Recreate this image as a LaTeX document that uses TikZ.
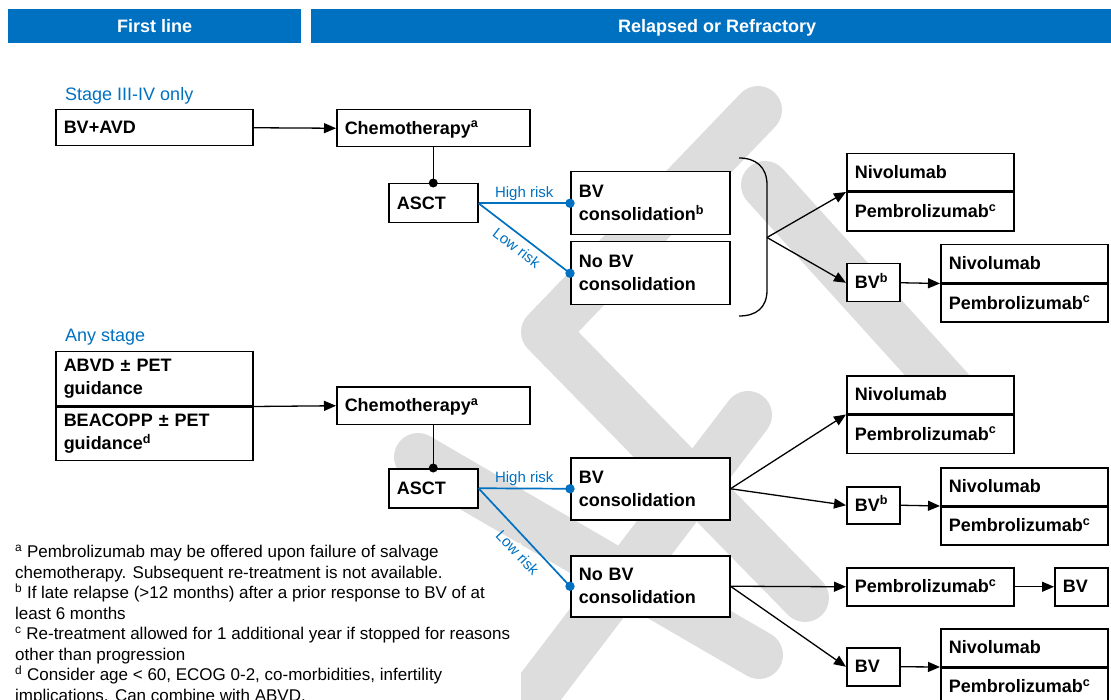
\documentclass[tikz,border=0pt]{standalone}
\usepackage{fontspec}
\setmainfont{Liberation Sans}
\usetikzlibrary{arrows.meta}
\definecolor{hdrblue}{RGB}{0,112,192}
\definecolor{wmgray}{RGB}{221,221,221}
\newcommand{\boxfont}{\bfseries\fontsize{18}{23}\selectfont}

\begin{document}
\begin{tikzpicture}[x=1pt,y=-1pt,
    box/.style 2 args={draw,line width=1.5pt,fill=white,anchor=north west,
        inner xsep=8pt,inner ysep=0pt,text width=#1,minimum height=#2,
        align=left,font=\boxfont},
    one/.style={text height=13pt,text depth=1pt},
    hdr/.style={fill=hdrblue,text=white,anchor=north west,inner sep=0pt,
        minimum height=34pt,one,font=\bfseries\fontsize{18}{20}\selectfont},
    stage/.style={anchor=base west,inner sep=0pt,text=hdrblue,
        font=\fontsize{18}{20}\selectfont},
    risk/.style={text=hdrblue,inner sep=2pt,font=\fontsize{15}{17}\selectfont},
    link/.style={line width=1.3pt},
    arr/.style={line width=1.3pt,-{Triangle[length=12pt,width=10pt]}},
    bluelink/.style={hdrblue,line width=1.7pt},
    wmark/.style={wmgray,line width=48pt,line cap=round,line join=round}]

\useasboundingbox (0,0) rectangle (1111,700);

% watermark
\begin{scope}
  \clip (0,0) -- (1111,0) -- (1111,700) -- (521,700) -- (521,543) -- (0,543) -- cycle;
  \draw[wmark] (758,110) -- (545,332) -- (805,598);
  \draw[wmark] (765,185) -- (985,428);
  \draw[wmark] (748,415) -- (500,740);
  \draw[wmark] (418,457) -- (759,655);
\end{scope}

\node[hdr,minimum width=293pt] (hdrA) at (8,9) {First line};
\node[hdr,minimum width=800pt] (hdrB) at (311,9) {\hspace{12pt}Relapsed or Refractory};

% stage III-IV only
\node[stage] (stageA) at (65,101) {Stage III-IV only};
\node[box={181pt}{36pt},one] (bvavd) at (55,109) {BV+AVD};
\node[box={177pt}{37pt},one] (chemoA) at (336,109) {Chemotherapy\textsuperscript{a}};
\node[box={73pt}{39pt},one] (asctA) at (388,183) {ASCT};
\node[box={143pt}{63pt}] (bvconA) at (570,171) {BV\\consolidation\textsuperscript{b}};
\node[box={143pt}{63pt}] (nobvA) at (570,241) {No BV\\consolidation};
\node[box={151pt}{37.5pt},one] (nivA) at (846,153) {Nivolumab};
\node[box={151pt}{38.5pt},one] (pemA) at (nivA.south west) {Pembrolizumab\textsuperscript{c}};
\node[box={37pt}{38pt},one] (bvbA) at (846,263) {BV\textsuperscript{b}};
\node[box={151pt}{38pt},one] (nivB) at (940,244) {Nivolumab};
\node[box={151pt}{38pt},one] (pemB) at (nivB.south west) {Pembrolizumab\textsuperscript{c}};

\draw[arr] (bvavd.east) -- (chemoA.west);
\draw[link] (chemoA.south) -- (asctA.north);
\fill (asctA.north) circle (4.5pt);
\draw[bluelink] (asctA.east) -- node[risk,above] {High risk} (bvconA.west);
\draw[bluelink] (asctA.east) -- node[risk,sloped,below=4pt] {Low risk} (nobvA.west);
\fill[hdrblue] (bvconA.west) circle (4.7pt) (nobvA.west) circle (4.7pt);
\draw[link] (739,158) .. controls (756,158) and (767,167) .. (767,185) -- (767,290)
    .. controls (767,308) and (756,316) .. (739,316);
\coordinate (brA) at (767,237.5);
\draw[arr] (brA) -- (nivA.south west);
\draw[arr] (brA) -- (bvbA.west);
\draw[arr] (bvbA.east) -- (nivB.south west);

% any stage
\node[stage] (stageB) at (65,342) {Any stage};
\node[box={181pt}{54pt}] (abvd) at (55,351) {ABVD ± PET\\guidance};
\node[box={181pt}{53pt}] (beacopp) at (abvd.south west) {BEACOPP ± PET\\guidance\textsuperscript{d}};
\node[box={177pt}{37pt},one] (chemoB) at (336,386.5) {Chemotherapy\textsuperscript{a}};
\node[box={73pt}{39pt},one] (asctB) at (388,468) {ASCT};
\node[box={143pt}{62pt}] (bvconB) at (570,457) {BV\\consolidation};
\node[box={143pt}{61pt}] (nobvB) at (570,555) {No BV\\consolidation};
\node[box={151pt}{37.5pt},one] (nivC) at (846,375.5) {Nivolumab};
\node[box={151pt}{38pt},one] (pemC) at (nivC.south west) {Pembrolizumab\textsuperscript{c}};
\node[box={37pt}{37pt},one] (bvbB) at (846,486) {BV\textsuperscript{b}};
\node[box={151pt}{37.5pt},one] (nivD) at (940,467) {Nivolumab};
\node[box={151pt}{38pt},one] (pemD) at (nivD.south west) {Pembrolizumab\textsuperscript{c}};
\node[box={151pt}{38pt},one] (pemE) at (846,567) {Pembrolizumab\textsuperscript{c}};
\node[box={37pt}{38pt},one] (bvE) at (1054,567) {BV};
\node[box={37pt}{38pt},one] (bvF) at (846,647) {BV};
\node[box={151pt}{37.5pt},one] (nivF) at (940,628) {Nivolumab};
\node[box={151pt}{38pt},one] (pemF) at (nivF.south west) {Pembrolizumab\textsuperscript{c}};

\draw[arr] (abvd.south east) -- (chemoB.west);
\draw[link] (chemoB.south) -- (asctB.north);
\fill (asctB.north) circle (4.5pt);
\draw[bluelink] (asctB.east) -- node[risk,above] {High risk} (bvconB.west);
\draw[bluelink] (asctB.east) -- node[risk,sloped,below=7pt,pos=0.55] {Low risk} (nobvB.west);
\fill[hdrblue] (bvconB.west) circle (4.7pt) (nobvB.west) circle (4.7pt);
\draw[arr] (bvconB.east) -- (nivC.south west);
\draw[arr] (bvconB.east) -- (bvbB.west);
\draw[arr] (bvbB.east) -- (nivD.south west);
\draw[arr] (nobvB.east) -- (pemE.west);
\draw[arr] (pemE.east) -- (bvE.west);
\draw[arr] (nobvB.east) -- (bvF.west);
\draw[arr] (bvF.east) -- (nivF.south west);

% footnotes
\node[anchor=north west,inner sep=0pt,align=left,font=\fontsize{17}{20.5}\selectfont] (notes) at (15,545)
  {\textsuperscript{a} Pembrolizumab may be offered upon failure of salvage\\
   chemotherapy. Subsequent re-treatment is not available.\\
   \textsuperscript{b} If late relapse (>12 months) after a prior response to BV of at\\
   least 6 months\\
   \textsuperscript{c} Re-treatment allowed for 1 additional year if stopped for reasons\\
   other than progression\\
   \textsuperscript{d} Consider age < 60, ECOG 0-2, co-morbidities, infertility\\
   implications. Can combine with ABVD.};
\end{tikzpicture}
\end{document}
